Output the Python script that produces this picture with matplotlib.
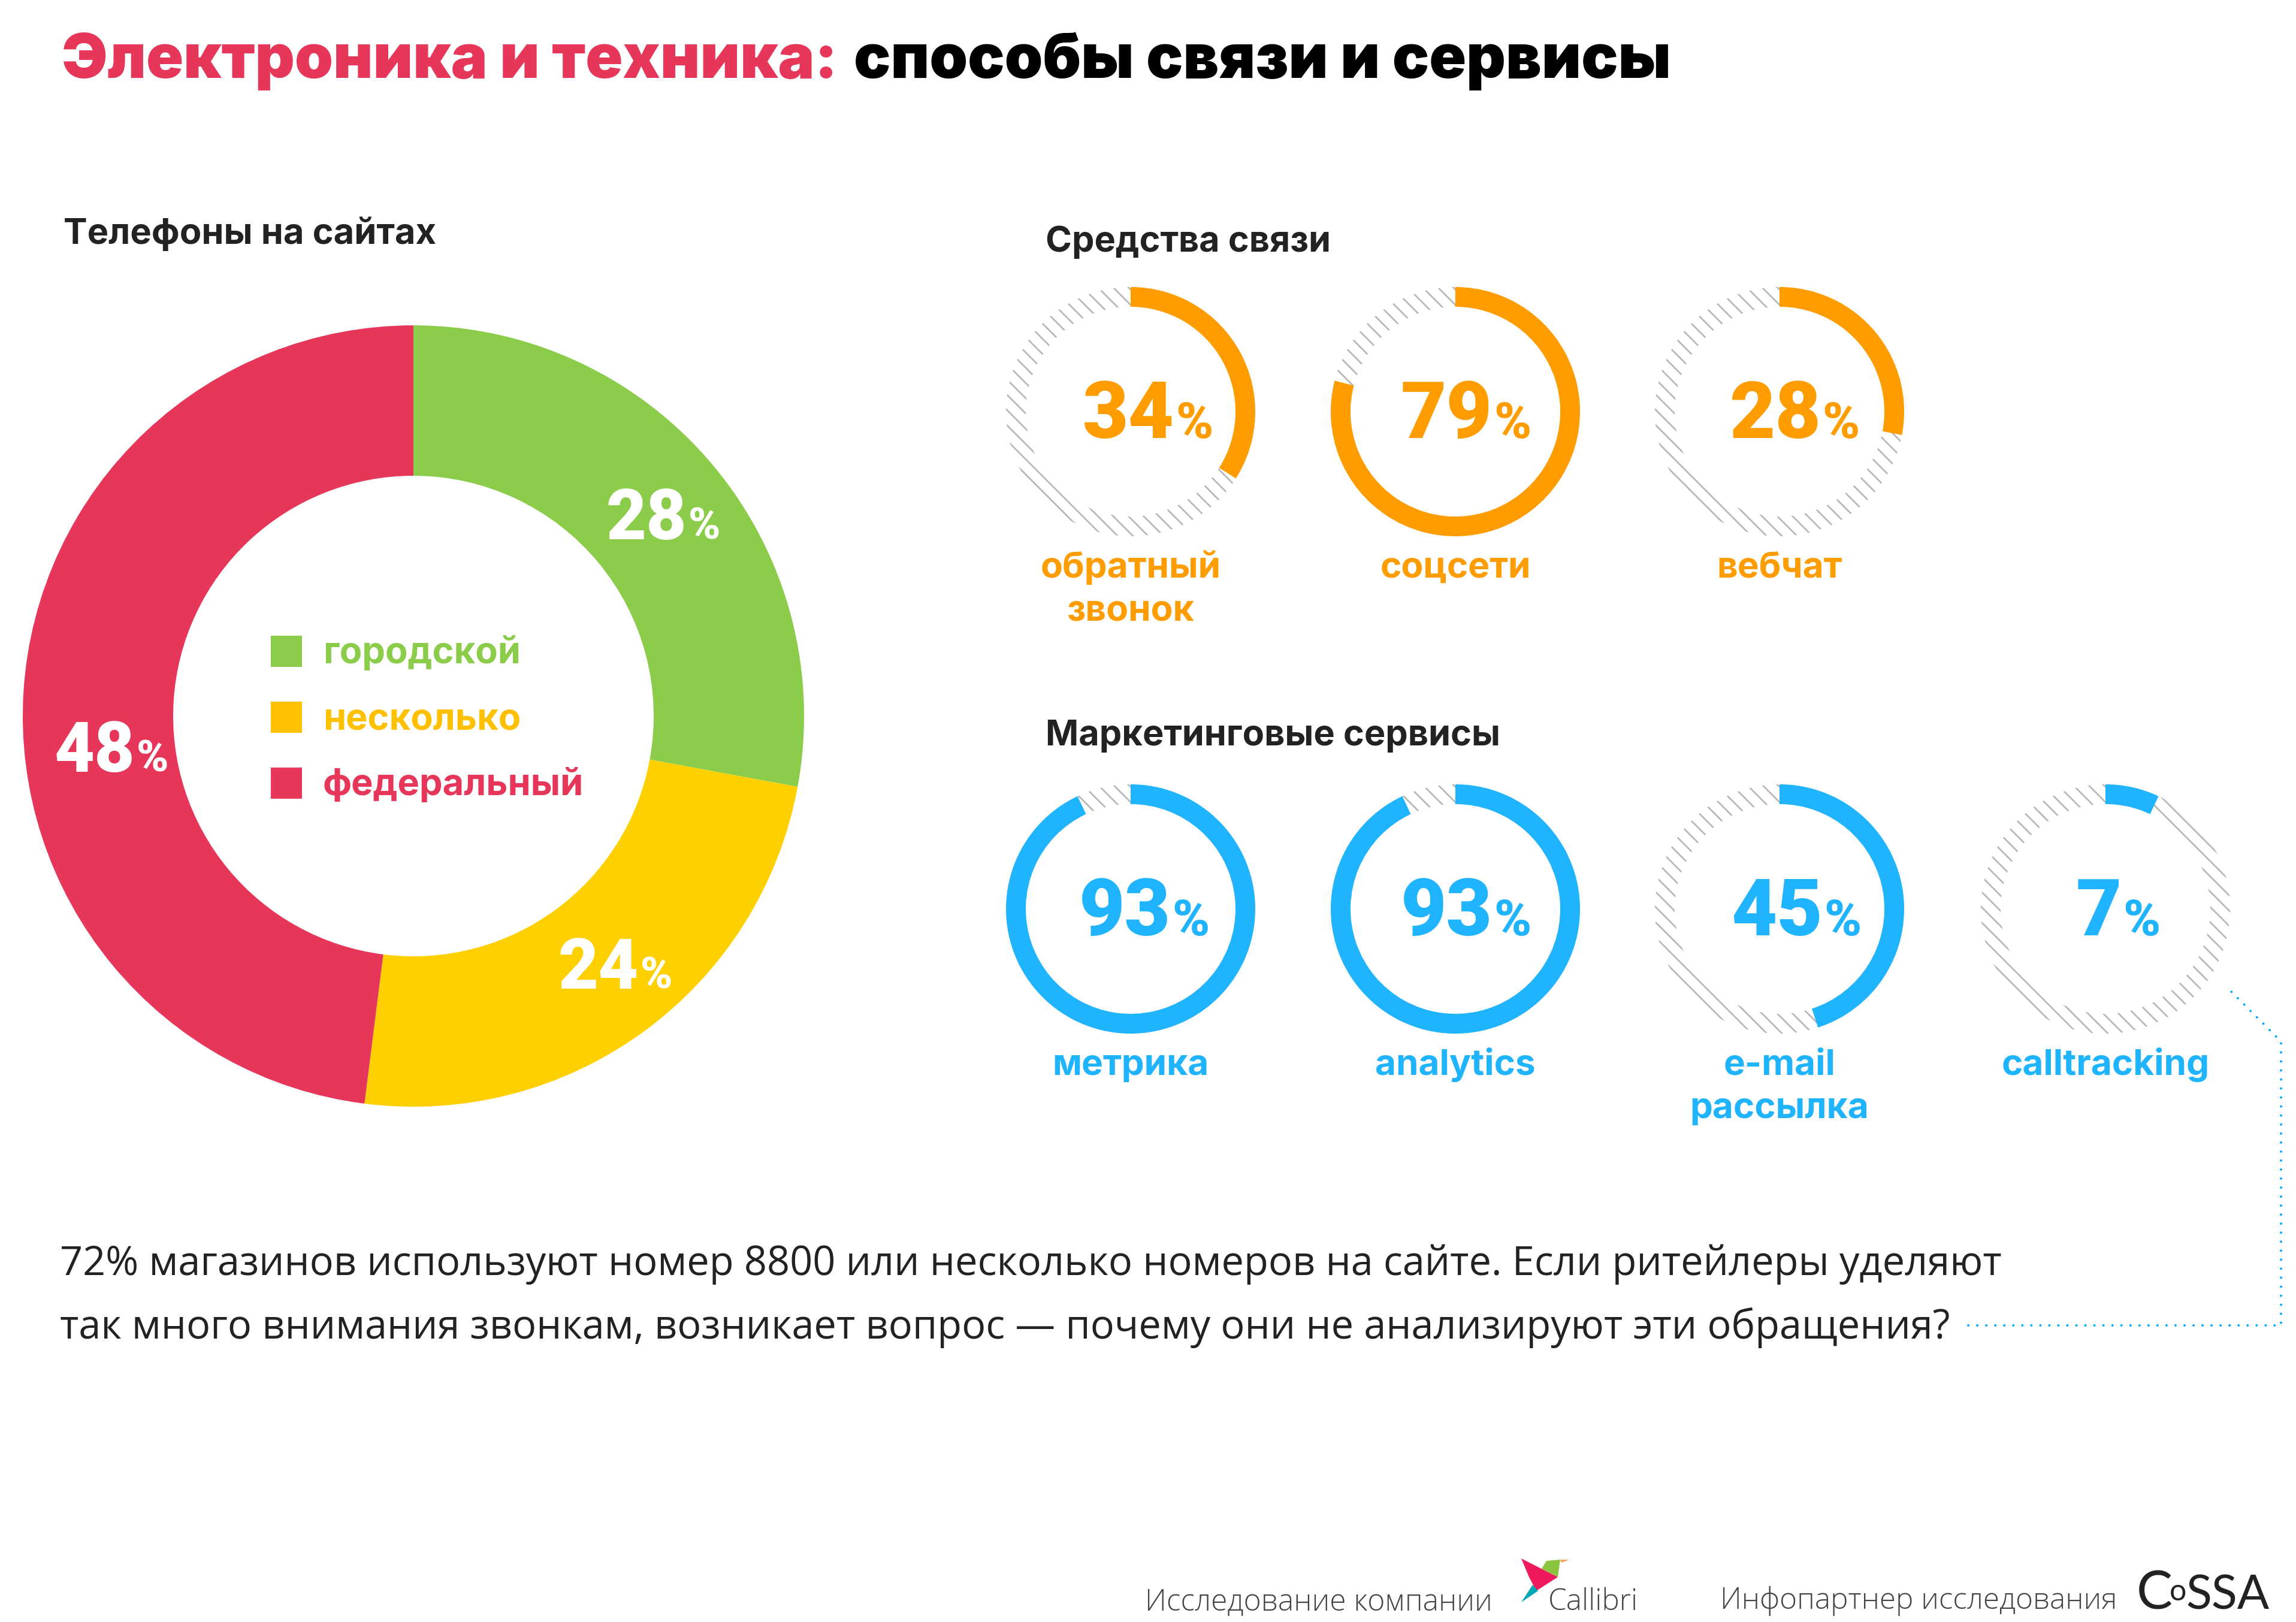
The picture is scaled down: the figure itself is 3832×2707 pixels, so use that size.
import numpy as np
import matplotlib
matplotlib.use('Agg')
import matplotlib.pyplot as plt
from matplotlib.patches import Wedge, Rectangle, Polygon
from matplotlib.collections import LineCollection

# data
phone_labels = ['городской', 'несколько', 'федеральный']
phone_values = [28, 24, 48]
phone_arcs = [27.9, 24.1, 48]  # arcs as drawn in the picture, slightly off the printed numbers
contact_labels = ['обратный\nзвонок', 'соцсети', 'вебчат']
contact_values = [34, 79, 28]
marketing_labels = ['метрика', 'analytics', 'e-mail\nрассылка', 'calltracking']
marketing_values = [93, 93, 45, 7]

W, H = 3832, 2707
RED = '#E6375A'
GREEN = '#8BCC4B'
YELLOW = '#FFD000'
AMBER = '#FFC000'
ORANGE = '#FF9C00'
BLUE = '#20B4FF'
DARK = '#222222'
HEAD = ['Inter', 'DejaVu Sans']
NUM = ['Roboto', 'DejaVu Sans']
BODY = ['Open Sans', 'DejaVu Sans']


def pt(px):
    return px * 72 / 100


fig = plt.figure(figsize=(W / 100, H / 100), dpi=100)
ax = fig.add_axes([0, 0, 1, 1])
ax.set_xlim(0, W)
ax.set_ylim(H, 0)
ax.axis('off')


def head(x, y, s, size, color=DARK, ha='left', weight='bold'):
    return ax.text(x, y, s, fontsize=pt(size), color=color, ha=ha, va='baseline',
                   family=HEAD, fontweight=weight, zorder=5)


def num(x, y, s, size, color, ha='left'):
    return ax.text(x, y, s, fontsize=pt(size), color=color, ha=ha, va='baseline',
                   family=NUM, fontweight='black', zorder=5)


# title
head(103, 130, 'Электроника и техника:', 102.5, RED, weight='black')
head(1425, 130, 'способы связи и сервисы', 102, 'black', weight='black')

# big donut
cx, cy = 690, 1195
start = -90
for val, col in zip(phone_arcs, [GREEN, YELLOW, RED]):
    end = start + val * 3.6
    ax.add_patch(Wedge((cx, cy), 652, start, end, width=251, fc=col, ec='none'))
    start = end

head(106, 407, 'Телефоны на сайтах', 59.6)

big_pos = [(1146, 900), (1066, 1650), (225, 1288)]
for val, (x, y) in zip(phone_values, big_pos):
    num(x, y, str(val), 116, 'white', ha='right')
    num(x + 3, y, '%', 72, 'white')

for i, (lab, col) in enumerate(zip(phone_labels, [GREEN, AMBER, RED])):
    y = 1087 + i * 110
    ax.add_patch(Rectangle((452, y - 26), 52, 52, fc=col, ec='none'))
    head(539, y + 20, lab, 61.3, col)


def ring(x, y, val, label, col, num_right):
    track = Wedge((x, y), 208, 0, 360, width=33, fc='none', ec='none')
    ax.add_patch(track)
    a = np.radians(45)
    d = np.array([np.cos(a), np.sin(a)])
    n = np.array([-np.sin(a), np.cos(a)])
    segs = []
    for k in range(-12, 13):
        p = np.array([x, y]) + n * k * 18
        segs.append([p - d * 240, p + d * 240])
    hatch = LineCollection(segs, colors='#B5B5B5', linewidths=pt(2.6), zorder=1)
    ax.add_collection(hatch)
    hatch.set_clip_path(track)
    ax.add_patch(Wedge((x, y), 208, -90, -90 + val * 3.6, width=33, fc=col, ec='none', zorder=3))
    num(x + num_right, y + 44, str(val), 132, col, ha='right')
    num(x + num_right + 2, y + 44, '%', 84, col)
    for j, line in enumerate(label.split('\n')):
        head(x, y + 277 + j * 72, line, 60.3, col, ha='center')


head(1745, 420, 'Средства связи', 59.4)
head(1745, 1244, 'Маркетинговые сервисы', 59.4)

for x, val, lab, nr in zip([1887, 2429, 2970], contact_values, contact_labels, [73, 62, 69]):
    ring(x, 687, val, lab, ORANGE, nr)
for x, val, lab, nr in zip([1887, 2429, 2970, 3514], marketing_values, marketing_labels, [67, 62, 72, 27]):
    ring(x, 1517, val, lab, BLUE, nr)

# paragraph
ax.text(100, 2128, '72% магазинов используют номер 8800 или несколько номеров на сайте. Если ритейлеры уделяют',
        fontsize=pt(66.65), color=DARK, family=BODY)
ax.text(100, 2234, 'так много внимания звонкам, возникает вопрос — почему они не анализируют эти обращения?',
        fontsize=pt(66.65), color=DARK, family=BODY)

# dotted leader
ax.plot([3285, 3807, 3807, 3717], [2212, 2212, 1738, 1648], color='#00A8FF', lw=pt(4),
        dashes=(0.01, 3.75), dash_capstyle='round')

# footer
ax.text(1911, 2687, 'Исследование компании', fontsize=pt(49.8), color='#444444', family=BODY, fontweight='light')
ax.text(2584, 2687, 'Callibri', fontsize=pt(49.5), color='#444444', family=BODY, fontweight='light')
ax.text(2871, 2685, 'Инфопартнер исследования', fontsize=pt(49.5), color='#444444', family=BODY, fontweight='light')
ax.add_patch(Polygon([(2581, 2605), (2604, 2603), (2600, 2632), (2573, 2618)], fc='#8BC540', ec='none'))
ax.add_patch(Polygon([(2604, 2603), (2619, 2603), (2606, 2608)], fc='#F7A35C', ec='none'))
ax.add_patch(Polygon([(2539, 2601), (2600, 2632), (2564, 2655), (2552, 2632)], fc='#EE1A5C', ec='none'))
ax.add_patch(Polygon([(2558, 2645), (2567, 2655), (2539, 2674)], fc='#00A7B5', ec='none'))
LOGO = ['Lato', 'DejaVu Sans']
ax.text(3566, 2685, 'C', fontsize=pt(90), color='#222222', family=LOGO)
ax.text(3621, 2671, 'o', fontsize=pt(50), color='#222222', family=LOGO)
ax.text(3648, 2685, 'SSA', fontsize=pt(79), color='#222222', family=LOGO)

fig.savefig('out.png', dpi=100, facecolor='white')
